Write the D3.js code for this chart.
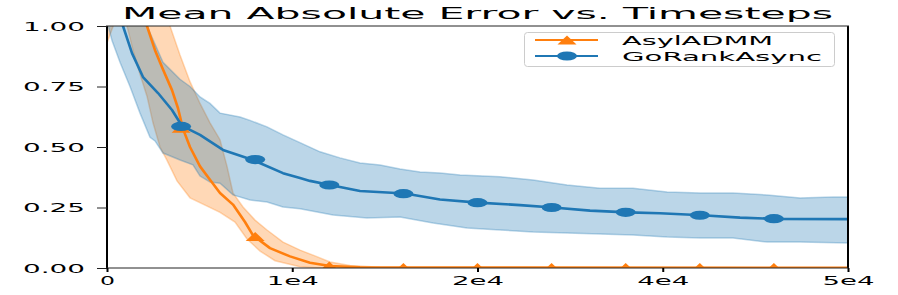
<!DOCTYPE html>
<html>
<head>
<meta charset="utf-8">
<script src="https://cdn.jsdelivr.net/npm/d3@7"></script>
<style>
body { margin: 0; background: #fff; }
text { font-family: "DejaVu Sans", sans-serif; fill: #000; }
</style>
</head>
<body>
<div id="canvas"></div>
<script>
// values, [timestep, error]
const asylMean = [[0,1.5],[2227,1.05],[2699,1.0],[3239,0.9],[3779,0.82],[4386,0.735],[4791,0.66],[5128,0.575],[5601,0.5],[6276,0.42],[6950,0.365],[7625,0.31],[8502,0.262],[9312,0.19],[9852,0.135],[10999,0.082],[12349,0.048],[13698,0.022],[15048,0.008],[17072,0.003],[19772,0.002],[50000,0.001]];
const asylUpper = [[0,1.6],[4251,1.0],[4926,0.88],[5601,0.77],[6276,0.68],[6950,0.6],[7625,0.53],[8098,0.42],[8502,0.31],[9177,0.252],[9987,0.198],[10797,0.157],[11876,0.107],[13024,0.074],[14036,0.05],[15048,0.025],[16398,0.01],[18422,0.003],[50000,0.001]];
const asylLower = [[0,0.93],[600,1.03],[1350,1.0],[1754,0.9],[2227,0.8],[2699,0.71],[3104,0.6],[3576,0.5],[4049,0.445],[4724,0.36],[5601,0.29],[6613,0.26],[7625,0.23],[8637,0.19],[9447,0.12],[10325,0.07],[11337,0.03],[13024,0.005],[14373,0],[50000,0]];
const asylMarks = [[5000,0.577],[10000,0.13],[15000,0.008],[20000,0.002],[25000,0.002],[30000,0.002],[35000,0.002],[40000,0.002],[45000,0.002]];

const goMean = [[0,1.25],[742,1.05],[1080,1.0],[1687,0.888],[2429,0.789],[3441,0.723],[4386,0.653],[5061,0.587],[6276,0.55],[7153,0.515],[7828,0.488],[9852,0.446],[11876,0.392],[13024,0.372],[13698,0.36],[15048,0.343],[17072,0.318],[20109,0.308],[22471,0.283],[25035,0.27],[27869,0.26],[30096,0.25],[32593,0.237],[35157,0.23],[37316,0.226],[40150,0.218],[42714,0.208],[45211,0.203],[50000,0.202]];
const goUpper = [[0,1.4],[2000,1.1],[2699,1.0],[3779,0.85],[4926,0.78],[5601,0.75],[6276,0.707],[6950,0.68],[7625,0.64],[8975,0.624],[9650,0.61],[10797,0.583],[11876,0.55],[13024,0.518],[14373,0.48],[15723,0.455],[17072,0.434],[18422,0.426],[19772,0.409],[21121,0.397],[22471,0.393],[23820,0.384],[26519,0.377],[28746,0.364],[31041,0.343],[33268,0.33],[35494,0.33],[37788,0.314],[40015,0.31],[42242,0.31],[44536,0.302],[46763,0.289],[48990,0.293],[50000,0.293]];
const goLower = [[0,1.02],[337,0.94],[877,0.85],[1552,0.75],[2227,0.64],[2902,0.54],[3239,0.525],[3779,0.475],[4926,0.446],[5803,0.426],[6276,0.38],[6950,0.355],[7625,0.35],[8502,0.302],[9650,0.281],[10797,0.273],[11876,0.252],[13024,0.245],[15251,0.219],[17545,0.207],[19772,0.211],[21998,0.186],[24293,0.165],[26519,0.157],[28746,0.149],[31041,0.145],[33268,0.14],[35494,0.136],[37788,0.128],[40015,0.124],[42242,0.124],[44536,0.107],[46763,0.107],[50000,0.103]];
const goMarks = [[5000,0.585],[10000,0.448],[15000,0.343],[20000,0.307],[25000,0.27],[30000,0.25],[35000,0.23],[40000,0.218],[45000,0.204]];

const yTicks = [0, 0.25, 0.5, 0.75, 1.0];
const xTicks = [0, 12500, 25000, 37500, 50000];
const xTickLabels = ["0", "1e4", "2e4", "4e4", "5e4"];
const seriesNames = ["AsylADMM", "GoRankAsync"];

const ORANGE = "#ff7f0e", BLUE = "#1f77b4";
const width = 898, height = 295;
const margin = {top: 26, left: 107, bottom: 27, right: 50};

const svg = d3.select("#canvas").append("svg")
    .attr("width", width).attr("height", height);

const x = d3.scaleLinear().domain([0, 50000]).range([margin.left, width - margin.right]);
const y = d3.scaleLinear().domain([0, 1]).range([height - margin.bottom, margin.top]);

svg.append("defs").append("clipPath").attr("id", "plotclip")
  .append("rect")
    .attr("x", x(0)).attr("y", y(1))
    .attr("width", x(50000) - x(0)).attr("height", y(0) - y(1));

const line = d3.line().x(d => x(d[0])).y(d => y(d[1]));
const plot = svg.append("g").attr("clip-path", "url(#plotclip)");

function band(upper, lower, color) {
    const pts = upper.concat(lower.slice().reverse());
    plot.append("path")
        .attr("d", line(pts) + "Z")
        .attr("fill", color).attr("fill-opacity", 0.3)
        .attr("stroke", color).attr("stroke-opacity", 0.3)
        .attr("stroke-width", 1.5);
}
band(asylUpper, asylLower, ORANGE);
band(goUpper, goLower, BLUE);

function meanLine(data, color) {
    plot.append("path")
        .attr("d", line(data))
        .attr("fill", "none").attr("stroke", color)
        .attr("stroke-width", 2.6).attr("stroke-linejoin", "round");
}
meanLine(asylMean, ORANGE);
meanLine(goMean, BLUE);

const triPath = "M0,-4.5L9.5,4.5L-9.5,4.5Z";
plot.selectAll(".tri").data(asylMarks).enter().append("path")
    .attr("d", triPath)
    .attr("transform", d => `translate(${x(d[0])},${y(d[1])})`)
    .attr("fill", ORANGE);
plot.selectAll(".dot").data(goMarks).enter().append("ellipse")
    .attr("cx", d => x(d[0])).attr("cy", d => y(d[1]))
    .attr("rx", 10).attr("ry", 4.6)
    .attr("fill", BLUE);

// spines
const x0 = x(0), x1 = x(50000), y0 = y(0), y1 = y(1);
svg.append("line").attr("x1", x0).attr("x2", x0).attr("y1", y1).attr("y2", y0)
    .attr("stroke", "#000").attr("stroke-width", 2);
svg.append("line").attr("x1", x1).attr("x2", x1).attr("y1", y1).attr("y2", y0)
    .attr("stroke", "#000").attr("stroke-width", 2);
svg.append("line").attr("x1", x0 - 1).attr("x2", x1 + 1).attr("y1", y0).attr("y2", y0)
    .attr("stroke", "#222").attr("stroke-width", 1);
svg.append("line").attr("x1", x0 - 1).attr("x2", x1 + 1).attr("y1", y1).attr("y2", y1)
    .attr("stroke", "#222").attr("stroke-width", 1);

// y axis
const yAxis = svg.append("g").attr("transform", `translate(${x0},0)`)
    .call(d3.axisLeft(y).tickValues(yTicks).tickFormat(d3.format(".2f")).tickSize(10));
yAxis.select(".domain").remove();
yAxis.selectAll("line").attr("stroke", "#222").attr("stroke-width", 1);
yAxis.selectAll("text")
    .attr("x", -22).attr("dy", "0.36em")
    .attr("font-size", 11.5).attr("font-family", "DejaVu Sans")
    .attr("textLength", 62).attr("lengthAdjust", "spacingAndGlyphs");

// x axis
const xAxis = svg.append("g").attr("transform", `translate(0,${y0})`)
    .call(d3.axisBottom(x).tickValues(xTicks).tickFormat((d, i) => xTickLabels[i]).tickSize(4));
xAxis.select(".domain").remove();
xAxis.selectAll("line").attr("stroke", "#000").attr("stroke-width", 2);
xAxis.selectAll("text")
    .attr("y", 17).attr("dy", null)
    .attr("font-size", 11.5).attr("font-family", "DejaVu Sans")
    .attr("textLength", (d, i) => i === 0 ? 15 : 52).attr("lengthAdjust", "spacingAndGlyphs");

// title
svg.append("text")
    .attr("x", 477.5).attr("y", 19)
    .attr("text-anchor", "middle")
    .attr("font-size", 15.5)
    .attr("textLength", 711).attr("lengthAdjust", "spacingAndGlyphs")
    .text("Mean Absolute Error vs. Timesteps");

// legend
const lg = svg.append("g");
lg.append("rect")
    .attr("x", 524.5).attr("y", 32.5).attr("width", 310).attr("height", 34).attr("rx", 3)
    .attr("fill", "#fff").attr("fill-opacity", 0.8)
    .attr("stroke", "#ccc").attr("stroke-width", 1);
const legendRows = [
    {name: seriesNames[0], color: ORANGE, y: 40, w: 151},
    {name: seriesNames[1], color: BLUE, y: 56, w: 200}
];
legendRows.forEach((r, i) => {
    lg.append("line").attr("x1", 535).attr("x2", 598).attr("y1", r.y).attr("y2", r.y)
        .attr("stroke", r.color).attr("stroke-width", 2);
    if (i === 0) {
        lg.append("path").attr("d", triPath).attr("transform", `translate(567,${r.y})`).attr("fill", r.color);
    } else {
        lg.append("ellipse").attr("cx", 567).attr("cy", r.y).attr("rx", 10).attr("ry", 4.6).attr("fill", r.color);
    }
    lg.append("text")
        .attr("x", 622).attr("y", r.y + 4.5)
        .attr("font-size", 12.5)
        .attr("textLength", r.w).attr("lengthAdjust", "spacingAndGlyphs")
        .text(r.name);
});
</script>
</body>
</html>
